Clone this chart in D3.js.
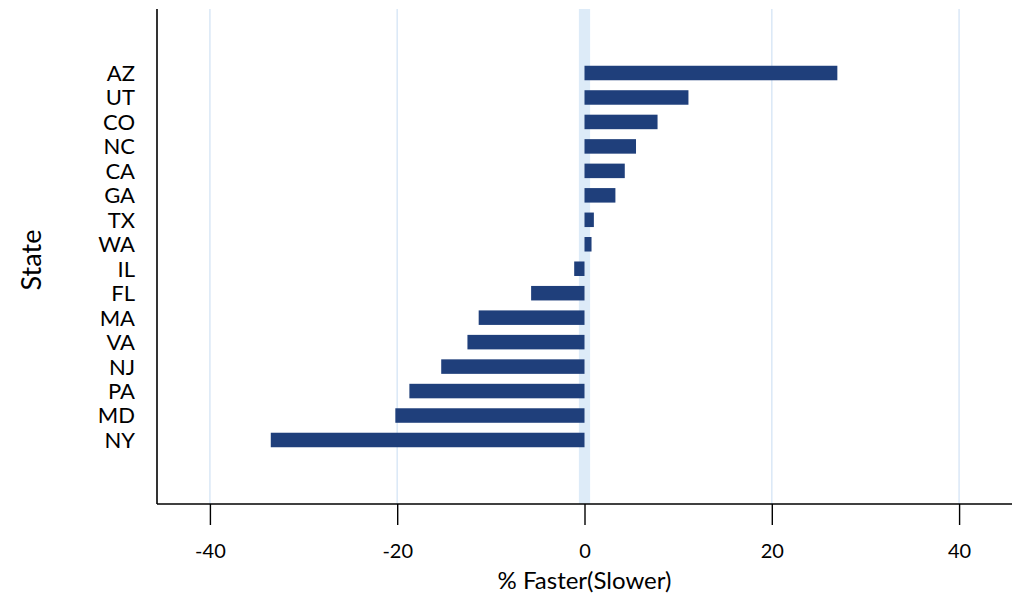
<!DOCTYPE html>
<html><head><meta charset="utf-8">
<script src="https://cdn.jsdelivr.net/npm/d3@7"></script>
<style>body{margin:0;background:#fff}text{font-family:Lato,"Liberation Sans",Arial,sans-serif;fill:#000}</style>
</head><body><svg id="c" width="1024" height="615"></svg>
<script>
const states = ["AZ","UT","CO","NC","CA","GA","TX","WA","IL","FL","MA","VA","NJ","PA","MD","NY"];
const pctFaster = [27.0,11.1,7.8,5.5,4.3,3.3,1.0,0.75,-1.1,-5.7,-11.3,-12.5,-15.3,-18.7,-20.2,-33.5];
const xTicks = [-40,-20,0,20,40];
const xTitle = "% Faster(Slower)";
const yTitle = "State";

const svg = d3.select("#c");
const L=157, R=1012, T=9, B=504;
const F = "Lato";
const x = d3.scaleLinear().domain([-45.65,45.65]).range([L,R]);
const y = d3.scaleBand().domain(states).range([T,B]).paddingInner(0.407).paddingOuter(2.32);

// gridlines
svg.append("g").selectAll("line").data(xTicks.filter(d=>d!==0)).join("line")
  .attr("x1",d=>x(d)).attr("x2",d=>x(d)).attr("y1",T).attr("y2",B)
  .attr("stroke","#dce9f7").attr("stroke-width",1.6);
// zero band
svg.append("rect").attr("x",x(-0.6)).attr("width",x(0.6)-x(-0.6)).attr("y",T).attr("height",B-T).attr("fill","#ddebf8");

// bars
svg.append("g").selectAll("rect").data(states).join("rect")
  .attr("x",(d,i)=>x(Math.min(0,pctFaster[i])))
  .attr("width",(d,i)=>Math.abs(x(pctFaster[i])-x(0)))
  .attr("y",d=>y(d)).attr("height",y.bandwidth())
  .attr("fill","#1f3f7b");

// axes
const xa = svg.append("g").attr("transform",`translate(0,${B})`)
  .call(d3.axisBottom(x).tickValues(xTicks).tickSize(21).tickFormat(d=>String(d)));
xa.select(".domain").attr("stroke","#000").attr("stroke-width",1.6).attr("d",`M${L},0H${R}`);
xa.selectAll(".tick line").attr("stroke","#000").attr("stroke-width",1.4);
xa.selectAll("text").attr("font-size",20).attr("font-family",F).attr("y",54).attr("dy",0).attr("fill","#000");

const ya = svg.append("g").attr("transform",`translate(${L},0)`)
  .call(d3.axisLeft(y).tickSize(0).tickPadding(22));
ya.select(".domain").attr("stroke","#000").attr("stroke-width",1.6).attr("d",`M0,${T}V${B}`);
ya.selectAll("text").attr("font-size",22).attr("font-family",F).attr("dy","0.36em").attr("fill","#000");

svg.append("text").attr("x",x(0)).attr("y",589).attr("text-anchor","middle").attr("font-size",24).text(xTitle);
svg.append("text").attr("transform","translate(41,260) rotate(-90)").attr("text-anchor","middle").attr("font-size",27).text(yTitle);
</script></body></html>
